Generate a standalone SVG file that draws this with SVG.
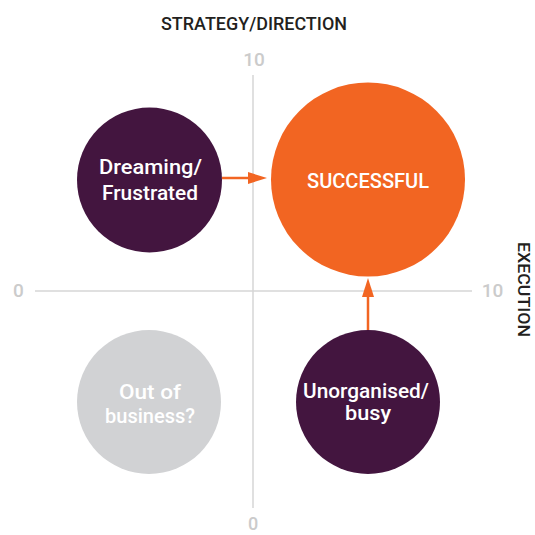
<svg xmlns="http://www.w3.org/2000/svg" width="535" height="535" viewBox="0 0 535 535">
<style>
.axis{stroke:#d6d6d6;stroke-width:1.5;fill:none}
.num{font-family:Roboto,"Liberation Sans",sans-serif;font-weight:500;font-size:19px;fill:#cbcbcb;text-anchor:middle}
.title{font-family:Roboto,"Liberation Sans",sans-serif;font-weight:500;font-size:19px;fill:#231f20;text-anchor:middle}
.lbl{font-family:Roboto,"Liberation Sans",sans-serif;font-weight:500;font-size:21px;fill:#ffffff;text-anchor:middle}
.purple{fill:#43153f}
.orange{fill:#f26522}
.grey{fill:#d1d2d4}
.conn{stroke:#f26522;stroke-width:2.5;fill:none}
</style>
<defs>
<marker id="ah" markerUnits="userSpaceOnUse" markerWidth="19" markerHeight="12" refX="0" refY="6" orient="auto">
<path d="M0,0 L19,6 L0,12 z" fill="#f26522"/>
</marker>
</defs>
<g id="axes">
<line class="axis" x1="253" y1="75" x2="253" y2="508"/>
<line class="axis" x1="35" y1="291" x2="472" y2="291"/>
<text class="num" x="254" y="66">10</text>
<text class="num" x="18.5" y="297">0</text>
<text class="num" x="492.5" y="297">10</text>
<text class="num" x="253" y="530" style="font-size:18px">0</text>
<text class="title" transform="translate(518,289.5) rotate(90)" x="0" y="0" style="font-size:17px" textLength="95" lengthAdjust="spacingAndGlyphs">EXECUTION</text>
<text class="title" x="254" y="30" textLength="186" lengthAdjust="spacingAndGlyphs">STRATEGY/DIRECTION</text>
</g>
<g id="dreaming">
<circle class="purple" cx="149.5" cy="180" r="72.5"/>
<text class="lbl" x="150.5" y="174" textLength="103" lengthAdjust="spacingAndGlyphs">Dreaming/</text>
<text class="lbl" x="150" y="200" textLength="96" lengthAdjust="spacingAndGlyphs">Frustrated</text>
</g>
<g id="successful">
<circle class="orange" cx="368" cy="179.5" r="97"/>
<text class="lbl" x="368" y="188" textLength="122" lengthAdjust="spacingAndGlyphs">SUCCESSFUL</text>
</g>
<g id="outofbusiness">
<circle class="grey" cx="149" cy="402" r="72"/>
<text class="lbl" x="150" y="399" textLength="62" lengthAdjust="spacingAndGlyphs">Out of</text>
<text class="lbl" x="150" y="423" textLength="90" lengthAdjust="spacingAndGlyphs">business?</text>
</g>
<g id="unorganised">
<circle class="purple" cx="368" cy="402" r="72"/>
<text class="lbl" x="366" y="398" textLength="126" lengthAdjust="spacingAndGlyphs">Unorganised/</text>
<text class="lbl" x="368" y="420" textLength="46" lengthAdjust="spacingAndGlyphs">busy</text>
</g>
<g id="connectors">
<line class="conn" x1="222" y1="178" x2="248" y2="178" marker-end="url(#ah)"/>
<line class="conn" x1="368" y1="330" x2="368" y2="297" marker-end="url(#ah)"/>
</g>
</svg>
